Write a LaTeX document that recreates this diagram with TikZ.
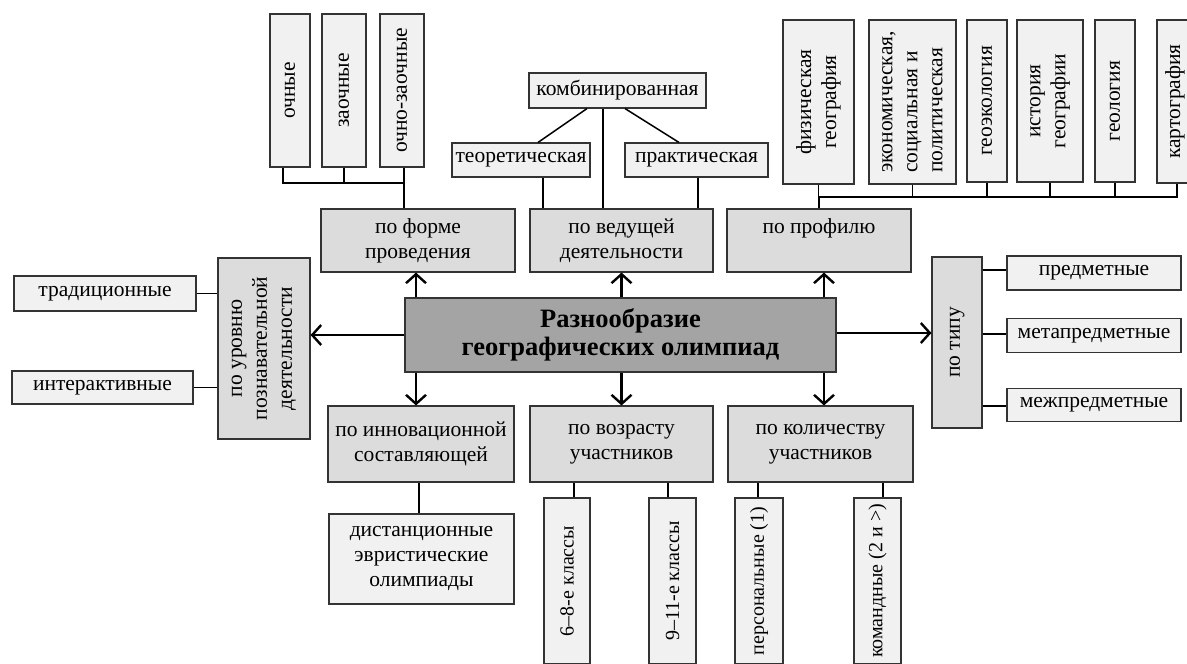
\documentclass[tikz,border=0pt]{standalone}
\usepackage{fontspec}
\setmainfont{Liberation Serif}
\usetikzlibrary{arrows.meta}
\definecolor{leaf}{HTML}{F1F1F2}
\definecolor{cat}{HTML}{DCDCDD}
\definecolor{central}{HTML}{A4A4A4}
\definecolor{edge}{HTML}{333333}
\tikzset{
  base/.style={draw=edge, line width=1.1pt, rectangle, inner sep=0pt, align=center, font=\fontsize{21.5}{25}\selectfont},
  leafbox/.style={base, fill=leaf},
  catbox/.style={base, fill=cat},
  mainbox/.style={base, fill=central, font=\fontsize{26.5}{28}\selectfont\bfseries},
  smallfont/.style={font=\fontsize{20}{24}\selectfont},
  conn/.style={line width=1.5pt, black},
  arr/.style={line width=2.4pt, black, -{Straight Barb[length=9pt,width=20pt,line width=2.4pt]}},
}
\begin{document}
\begin{tikzpicture}[x=1pt,y=-1pt]
\useasboundingbox (0,0) rectangle (1187,664);
\clip (0,0) rectangle (1187,664);
\fill[white] (0,0) rectangle (1187,664);

% central
\node[mainbox, minimum width=431pt, minimum height=74pt] (central) at (620.5,335) {Разнообразие\\географических олимпиад};

% category boxes
\node[catbox, minimum width=194pt, minimum height=63pt] (forma) at (418,240.5) {по форме\\проведения};
\node[catbox, minimum width=183pt, minimum height=63pt] (vedush) at (621.5,240.5) {по ведущей\\деятельности};
\node[catbox, minimum width=184pt, minimum height=63pt] (profil) at (819,240.5) {по профилю\\\phantom{д}};
\node[catbox, rotate=90, minimum width=181pt, minimum height=92pt] (urov) at (264,348.5) {по уровню\\познавательной\\деятельности};
\node[catbox, rotate=90, minimum width=171pt, minimum height=50pt] (tip) at (957,342.5) {по типу};
\node[catbox, minimum width=186pt, minimum height=76pt] (innov) at (421,444) {по инновационной\\составляющей};
\node[catbox, minimum width=183pt, minimum height=76pt] (vozr) at (621.5,444) {по возрасту\\участников};
\node[catbox, minimum width=185pt, minimum height=76pt] (kolich) at (820.5,444) {по количеству\\участников};

% top-left leaves
\node[leafbox, rotate=90, minimum width=153pt, minimum height=40pt] (ochnye) at (290,90.5) {очные};
\node[leafbox, rotate=90, minimum width=153pt, minimum height=44pt] (zaochnye) at (344,90.5) {заочные};
\node[leafbox, rotate=90, minimum width=153pt, minimum height=44pt] (ochzaoch) at (402,90.5) {очно-заочные};

% top-middle leaves
\node[leafbox, minimum width=177pt, minimum height=35pt] (kombin) at (617.5,90.5) {комбинированная};
\node[leafbox, minimum width=138pt, minimum height=34pt] (teor) at (521,160) {теоретическая};
\node[leafbox, minimum width=143pt, minimum height=34pt] (prakt) at (696.5,160) {практическая};

% top-right leaves
\node[leafbox, rotate=90, minimum width=164pt, minimum height=71pt] (fiz) at (818.5,102) {физическая\\география};
\node[leafbox, rotate=90, minimum width=164pt, minimum height=87pt, align=left] (econ) at (912.5,102) {экономическая,\\социальная и\\политическая};
\node[leafbox, rotate=90, minimum width=162pt, minimum height=40pt] (geoek) at (987,101) {геоэкология};
\node[leafbox, rotate=90, minimum width=162pt, minimum height=66pt] (istor) at (1050,101) {история\\географии};
\node[leafbox, rotate=90, minimum width=162pt, minimum height=40pt] (geol) at (1115,101) {геология};
\node[leafbox, rotate=90, minimum width=163pt, minimum height=36pt] (kart) at (1175,101.5) {картография};

% left leaves
\node[leafbox, minimum width=182pt, minimum height=35pt] (trad) at (105,293.5) {традиционные};
\node[leafbox, minimum width=181pt, minimum height=33pt] (inter) at (102.5,387.5) {интерактивные};

% right leaves
\node[leafbox, minimum width=174pt, minimum height=34pt] (predm) at (1094,273) {предметные};
\node[leafbox, minimum width=174pt, minimum height=34pt] (meta) at (1094,335.5) {метапредметные};
\node[leafbox, minimum width=174pt, minimum height=33pt] (mezh) at (1094,405) {межпредметные};

% bottom leaves
\node[leafbox, minimum width=185pt, minimum height=90pt] (dist) at (421.5,559) {дистанционные\\эвристические\\олимпиады};
\node[leafbox, smallfont, rotate=90, minimum width=166pt, minimum height=46pt] (kl68) at (567,581) {6–8-е классы};
\node[leafbox, smallfont, rotate=90, minimum width=166pt, minimum height=47pt] (kl911) at (672.5,581) {9–11-е классы};
\node[leafbox, smallfont, rotate=90, minimum width=166pt, minimum height=48pt] (pers) at (759,581) {персональные (1)};
\node[leafbox, smallfont, rotate=90, minimum width=166pt, minimum height=47pt] (koman) at (877.5,581) {командные (2 и >)};

% connectors: forma
\coordinate (busA) at (404,183);
\draw[conn] ([xshift=-7pt]ochnye.west) |- (busA);
\draw[conn] (zaochnye.west) |- (busA);
\draw[conn] ([xshift=2pt]ochzaoch.west) |- (busA);
\draw[conn] (busA) -- (busA |- forma.north);

% connectors: vedush
\draw[conn] ([xshift=-30.5pt]kombin.south) -- ([xshift=17pt]teor.north);
\draw[conn] ([xshift=7.5pt]kombin.south) -- ([xshift=-17.5pt]prakt.north);
\draw[conn] ([xshift=-14.5pt]kombin.south) -- ([xshift=-14.5pt]kombin.south |- vedush.north);
\draw[conn] ([xshift=22pt]teor.south) -- ([xshift=22pt]teor.south |- vedush.north);
\draw[conn] ([xshift=1.5pt]prakt.south) -- ([xshift=1.5pt]prakt.south |- vedush.north);

% connectors: profil
\coordinate (busB) at (819,197);
\draw[conn] (fiz.west) |- (busB);
\draw[conn] (econ.west) |- (busB);
\draw[conn] (geoek.west) |- (busB);
\draw[conn] (istor.west) |- (busB);
\draw[conn] (geol.west) |- (busB);
\draw[conn] ([xshift=2pt]kart.west) |- (busB);
\draw[conn] (busB) -- (busB |- profil.north);

% connectors: urov
\draw[conn] (trad.east) -- (trad.east -| urov.north);
\draw[conn] (inter.east) -- (inter.east -| urov.north);

% connectors: tip
\draw[conn] ([yshift=3pt]predm.west -| tip.south) -- ([yshift=3pt]predm.west);
\draw[conn] ([yshift=1.5pt]meta.west -| tip.south) -- ([yshift=1.5pt]meta.west);
\draw[conn] ([yshift=-1pt]mezh.west -| tip.south) -- ([yshift=-1pt]mezh.west);

% connectors: bottom
\draw[conn] ([xshift=-2pt]innov.south) -- ([xshift=-2pt]innov.south |- dist.north);
\draw[conn] ([xshift=7pt]kl68.east) -- ([xshift=7pt]kl68.east |- vozr.south);
\draw[conn] ([xshift=-4.5pt]kl911.east) -- ([xshift=-4.5pt]kl911.east |- vozr.south);
\draw[conn] ([xshift=-1pt]pers.east) -- ([xshift=-1pt]pers.east |- kolich.south);
\draw[conn] ([xshift=5.5pt]koman.east) -- ([xshift=5.5pt]koman.east |- kolich.south);

% arrows
\draw[arr] ([xshift=-2pt]central.north -| forma.south) -- ([xshift=-2pt]forma.south);
\draw[arr] (central.north -| vedush.south) -- (vedush.south);
\draw[arr] ([xshift=5pt]central.north -| profil.south) -- ([xshift=5pt]profil.south);
\draw[arr] ([xshift=-5pt]central.south -| innov.north) -- ([xshift=-5pt]innov.north);
\draw[arr] (central.south -| vozr.north) -- (vozr.north);
\draw[arr] ([xshift=3.5pt]central.south -| kolich.north) -- ([xshift=3.5pt]kolich.north);
\draw[arr] (central.west) -- (central.west -| urov.south);
\draw[arr] ([yshift=2pt]central.east) -- ([yshift=2pt]central.east -| tip.north);
\end{tikzpicture}
\end{document}
